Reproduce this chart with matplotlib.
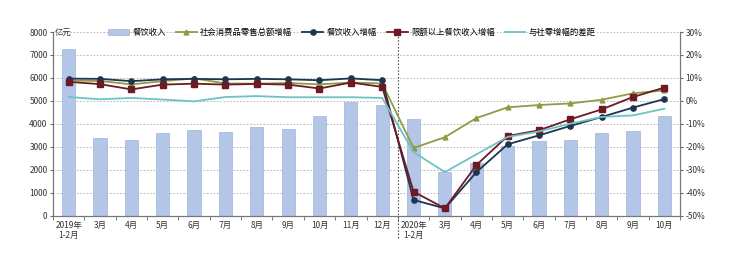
import matplotlib.pyplot as plt
import numpy as np

plt.rcParams['font.family'] = ['Noto Sans CJK SC', 'DejaVu Sans']

# 数据
months = ['2019年\n1-2月', '3月', '4月', '5月', '6月', '7月', '8月', '9月', '10月', '11月', '12月',
          '2020年\n1-2月', '3月', '4月', '5月', '6月', '7月', '8月', '9月', '10月']
revenue = [7250, 3400, 3300, 3620, 3720, 3650, 3850, 3780, 4350, 4950, 4820,
           4200, 1900, 2300, 3040, 3260, 3300, 3620, 3710, 4350]
retail_growth = [8.9, 8.7, 7.2, 8.6, 9.8, 7.6, 7.5, 7.8, 7.2, 8.0, 7.6,
                 -20.5, -15.8, -7.5, -2.8, -1.8, -1.1, 0.5, 3.3, 4.6]
food_growth = [9.7, 9.6, 8.6, 9.4, 9.6, 9.4, 9.6, 9.4, 9.0, 9.8, 9.0,
               -43.1, -46.8, -31.1, -18.9, -15.0, -10.9, -7.0, -2.9, 0.8]
large_growth = [8.3, 7.3, 5.0, 7.1, 7.5, 7.1, 7.4, 7.1, 5.4, 8.0, 6.1,
                -39.5, -46.8, -28.0, -15.3, -12.8, -8.0, -3.7, 1.7, 5.8]
gap = [1.7, 0.7, 1.3, 0.6, -0.2, 1.7, 2.1, 1.6, 1.6, 1.6, 1.3,
       -22.3, -31.0, -23.3, -15.7, -13.3, -9.9, -7.0, -6.3, -3.4]

x = np.arange(len(months))

fig = plt.figure(figsize=(7.32, 2.59), dpi=100)
ax = fig.add_axes([0.0724, 0.167, 0.8566, 0.7094])
ax2 = ax.twinx()

# 柱状图
b = ax.bar(x, revenue, width=0.42, color='#b3c6e8', edgecolor='#9fb3d8', linewidth=0.5,
           label='餐饮收入', zorder=2)
ax.set_ylim(0, 8000)
ax.set_yticks(np.arange(0, 8001, 1000))
ax.set_xlim(-0.5, len(months) - 0.5)
ax.grid(axis='y', color='#b0b0b0', linestyle=(0, (2, 2)), linewidth=0.6, zorder=0)
ax.set_axisbelow(True)

# 折线
l1, = ax2.plot(x, retail_growth, color='#8f9c45', marker='^', markersize=3.5, linewidth=1.3,
               label='社会消费品零售总额增幅')
l2, = ax2.plot(x, food_growth, color='#1d3550', marker='o', markersize=3.8, linewidth=1.3,
               label='餐饮收入增幅')
l3, = ax2.plot(x, large_growth, color='#6e1a25', marker='s', markersize=3.8, linewidth=1.3,
               label='限额以上餐饮收入增幅')
l4, = ax2.plot(x, gap, color='#6cc3c6', linewidth=1.3, label='与社零增幅的差距')
ax2.set_ylim(-50, 30)
ax2.set_yticks(np.arange(-50, 31, 10))
ax2.set_yticklabels([f'{v}%' for v in range(-50, 31, 10)])

# 分隔线
ax.axvline(10.5, ymin=-0.12, ymax=1, color='#555555', linestyle=(0, (1.5, 1.5)),
           linewidth=0.8, clip_on=False)

# 坐标轴样式
ax.set_xticks(x)
ax.set_xticklabels(months, fontsize=6, color='#333333', linespacing=1.1)
ax.set_xticks(np.arange(-0.5, len(months), 1), minor=True)
ax.tick_params(axis='x', which='major', length=0, pad=4)
ax.tick_params(axis='x', which='minor', length=3, color='#666666', direction='out')
ax.tick_params(axis='y', labelsize=6, length=2, color='#666666', labelcolor='#333333', pad=2)
ax2.tick_params(axis='y', labelsize=6, length=2, color='#666666', labelcolor='#333333', pad=2)
for a in (ax, ax2):
    a.spines['top'].set_visible(False)
    for s in ('left', 'right', 'bottom'):
        a.spines[s].set_color('#777777')
        a.spines[s].set_linewidth(0.8)

ax.text(0.003, 1.0, '亿元', transform=ax.transAxes, fontsize=6, color='#333333',
        ha='left', va='center')

ax2.legend([b, l1, l2, l3, l4], [h.get_label() for h in (b, l1, l2, l3, l4)],
           loc='center', bbox_to_anchor=(0.477, 1.0), ncol=5, fontsize=6, frameon=False,
           handlelength=2.5, columnspacing=1.2, handletextpad=0.4)

fig.savefig('out.png', dpi=100, facecolor='white')
